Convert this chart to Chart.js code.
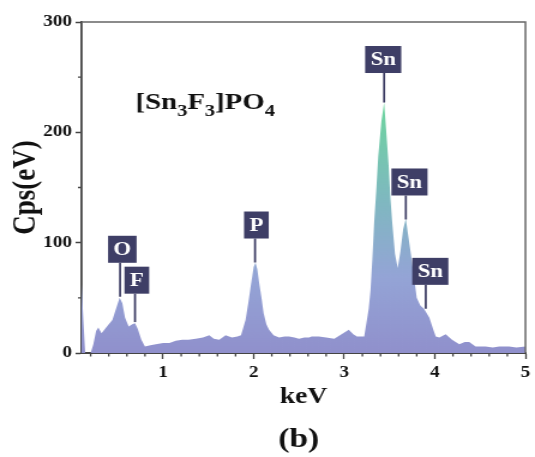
<!DOCTYPE html>
<html>
<head>
<meta charset="utf-8">
<script src="https://cdn.jsdelivr.net/npm/chart.js@4.4.1/dist/chart.umd.min.js"></script>
<style>
  body { margin: 0; background: #fff; overflow: hidden; }
  /* the original figure is stretched sideways, text included */
  #wrap { width: 446px; height: 457px; transform: scaleX(1.19955); transform-origin: 0 0; }
</style>
</head>
<body>
<div id="wrap"><canvas id="edsChart" width="446" height="457"></canvas></div>
<script>
// spectrum
const energy = [0.10, 0.12, 0.14, 0.20, 0.23, 0.26, 0.285, 0.32, 0.36, 0.40, 0.44, 0.48, 0.52, 0.55, 0.58, 0.62, 0.66, 0.69, 0.72, 0.76,
  0.80, 0.86, 0.92, 1.00, 1.07, 1.14, 1.21, 1.28, 1.36, 1.44, 1.51, 1.56, 1.62, 1.69, 1.76, 1.82, 1.86, 1.91, 1.94, 1.97,
  2.00, 2.02, 2.04, 2.06, 2.09, 2.11, 2.14, 2.17, 2.22, 2.28, 2.34, 2.39, 2.45, 2.50, 2.56, 2.61, 2.64, 2.72, 2.80, 2.89,
  2.97, 3.05, 3.10, 3.14, 3.22, 3.24, 3.27, 3.29, 3.31, 3.33, 3.355, 3.375, 3.41, 3.44, 3.46, 3.49, 3.51, 3.53, 3.56, 3.59,
  3.62, 3.65, 3.68, 3.70, 3.73, 3.77, 3.80, 3.84, 3.88, 3.94, 3.98, 4.01, 4.05, 4.12, 4.19, 4.27, 4.33, 4.38, 4.45, 4.56,
  4.64, 4.71, 4.82, 4.90, 5.00];
const counts = [62, 30, 0, 0, 8, 20, 23, 18, 22, 26, 30, 40, 50, 45, 32, 24, 26, 27, 22, 12,
  6, 7, 8, 9, 9, 11, 12, 12, 13, 14, 16, 13, 12, 16, 14, 15, 16, 30, 45, 62,
  78, 82, 76, 64, 48, 36, 26, 21, 16, 14, 15, 15, 14, 13, 14, 14, 15, 15, 14, 13,
  17, 21, 17, 15, 15, 25, 40, 57, 85, 118, 150, 178, 210, 227, 205, 170, 140, 118, 90, 77,
  92, 112, 122, 110, 93, 69, 50, 43, 40, 32, 22, 15, 14, 17, 12, 8, 10, 10, 6, 6,
  5, 6, 6, 5, 6];

const xTicks = [1, 2, 3, 4, 5];
const yTicks = [0, 100, 200, 300];

// peak labels: element, line x (keV), peak height, box centre x (keV), box centre y
const peakNames = ['O', 'F', 'P', 'Sn', 'Sn', 'Sn'];
const peakKeV = [0.525, 0.69, 2.015, 3.44, 3.68, 3.90];
const peakTop = [51, 28, 82, 227, 121, 40];
const boxKeV = [0.55, 0.71, 2.03, 3.43, 3.72, 3.95];
const boxCps = [94, 66, 116, 266, 155, 74];

const serif = "'Liberation Serif', 'Times New Roman', serif";

const decorations = {
  id: 'decorations',
  afterDatasetsDraw(chart) {
    const { ctx, chartArea: a, scales: { x, y } } = chart;
    ctx.save();
    // frame top / right
    ctx.strokeStyle = '#666';
    ctx.lineWidth = 1.5;
    ctx.beginPath();
    ctx.moveTo(a.left, a.top);
    ctx.lineTo(a.right, a.top);
    ctx.lineTo(a.right, a.bottom);
    ctx.stroke();

    // minor ticks
    ctx.strokeStyle = '#444';
    ctx.lineWidth = 1.3;
    ctx.beginPath();
    for (let v = 0.2; v < 5; v += 0.2) {
      if (Math.abs(v - Math.round(v)) < 0.01) continue;
      const px = x.getPixelForValue(v);
      ctx.moveTo(px, a.bottom);
      ctx.lineTo(px, a.bottom + 3.5);
    }
    for (let v = 50; v < 300; v += 100) {
      const py = y.getPixelForValue(v);
      ctx.moveTo(a.left, py);
      ctx.lineTo(a.left - 3, py);
    }
    ctx.stroke();

    // peak labels
    ctx.font = 'bold 19px ' + serif;
    ctx.textAlign = 'center';
    ctx.textBaseline = 'middle';
    peakNames.forEach((name, i) => {
      const lx = x.getPixelForValue(peakKeV[i]);
      const ly = y.getPixelForValue(peakTop[i]);
      const bx = x.getPixelForValue(boxKeV[i]);
      const by = y.getPixelForValue(boxCps[i]);
      const w = ctx.measureText(name).width + 9;
      const h = 27;
      ctx.strokeStyle = '#3b3b62';
      ctx.lineWidth = 1.7;
      ctx.beginPath();
      ctx.moveTo(lx, by + h / 2);
      ctx.lineTo(lx, ly);
      ctx.stroke();
      ctx.fillStyle = '#3e3e66';
      ctx.fillRect(bx - w / 2, by - h / 2, w, h);
      ctx.fillStyle = '#fff';
      ctx.fillText(name, bx, by + 1);
    });

    // formula
    let cx = a.left + 45;
    const base = a.top + 87;
    ctx.fillStyle = '#111';
    ctx.textAlign = 'left';
    ctx.textBaseline = 'alphabetic';
    const parts = [['[Sn', 0], ['3', 1], ['F', 0], ['3', 1], [']PO', 0], ['4', 1]];
    parts.forEach(([t, sub]) => {
      ctx.font = sub ? 'bold 17px ' + serif : 'bold 24px ' + serif;
      ctx.fillText(t, cx, sub ? base + 7 : base);
      cx += ctx.measureText(t).width;
    });

    // panel letter
    ctx.font = 'bold 28px ' + serif;
    ctx.textAlign = 'center';
    ctx.textBaseline = 'middle';
    ctx.fillText('(b)', (a.left + a.right) / 2 - 4, 440);
    ctx.restore();
  }
};

new Chart('edsChart', {
  type: 'line',
  data: {
    datasets: [{
      data: energy.map((e, i) => ({ x: e, y: counts[i] })),
      fill: 'origin',
      borderWidth: 0,
      pointRadius: 0,
      tension: 0,
      backgroundColor: (c) => {
        const chart = c.chart;
        if (!chart.chartArea) return '#9090cc';
        const y = chart.scales.y;
        const g = chart.ctx.createLinearGradient(0, y.getPixelForValue(230), 0, y.getPixelForValue(0));
        g.addColorStop(0, '#6cd69d');
        g.addColorStop(0.4, '#7fb8c0');
        g.addColorStop(0.7, '#94a4d6');
        g.addColorStop(1, '#9090cc');
        return g;
      }
    }]
  },
  options: {
    responsive: false,
    animation: false,
    layout: { padding: { top: 22, right: 6, left: 0, bottom: 0 } },
    plugins: {
      legend: { display: false },
      tooltip: { enabled: false }
    },
    scales: {
      x: {
        type: 'linear',
        min: 0.1,
        max: 5,
        afterBuildTicks: (s) => { s.ticks = xTicks.map(v => ({ value: v })); },
        afterFit: (s) => { s.height = 104; },
        grid: { drawOnChartArea: false, tickLength: 6, tickWidth: 1.3, tickColor: '#444' },
        border: { color: '#444', width: 2 },
        ticks: { color: '#111', padding: 4, font: { family: serif, size: 16, weight: 'bold' } },
        title: {
          display: true,
          text: 'keV',
          color: '#111',
          padding: { top: 0, bottom: 46 },
          font: { family: serif, size: 23, weight: 'bold' }
        }
      },
      y: {
        min: 0,
        max: 300,
        afterBuildTicks: (s) => { s.ticks = yTicks.map(v => ({ value: v })); },
        afterFit: (s) => { s.width = 68; },
        grid: { drawOnChartArea: false, tickLength: 5, tickWidth: 1.5, tickColor: '#444' },
        border: { color: '#444', width: 1.8 },
        ticks: { color: '#111', padding: 3, font: { family: serif, size: 16, weight: 'bold' } },
        title: {
          display: true,
          text: 'Cps(eV)',
          color: '#111',
          padding: { top: 6, bottom: 0 },
          font: { family: serif, size: 27, weight: 'bold' }
        }
      }
    }
  },
  plugins: [decorations]
});
</script>
</body>
</html>
